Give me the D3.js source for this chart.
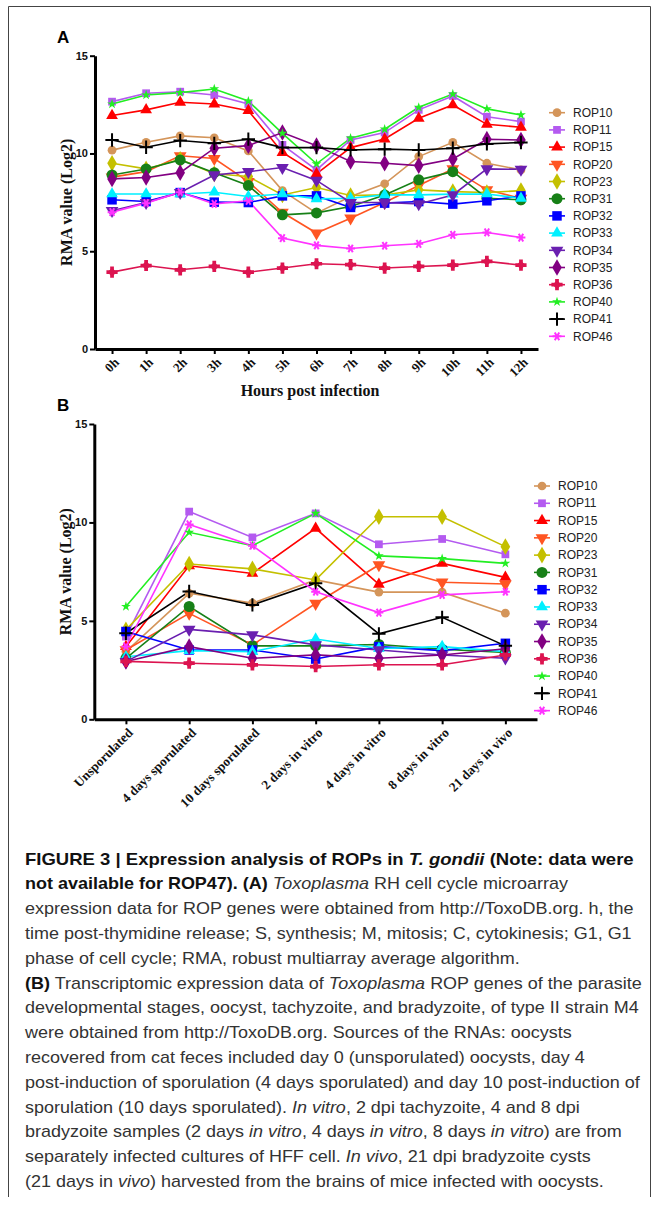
<!DOCTYPE html>
<html><head><meta charset="utf-8">
<script src="https://cdn.jsdelivr.net/npm/d3@7"></script>
<style>body{margin:0;background:#fff} svg{display:block}</style>
</head><body>
<svg id="c" width="659" height="1207"></svg>
<script>
// ---------- DATA ----------
const hours = ["0h","1h","2h","3h","4h","5h","6h","7h","8h","9h","10h","11h","12h"];
const stages = ["Unsporulated","4 days sporulated","10 days sporulated","2 days in vitro","4 days in vitro","8 days in vitro","21 days in vivo"];
const genes = ["ROP10","ROP11","ROP15","ROP20","ROP23","ROP31","ROP32","ROP33","ROP34","ROP35","ROP36","ROP40","ROP41","ROP46"];
const yTicks = [0,5,10,15];

// Panel A: RH cell cycle (hours)
const rop10A = [10.17,10.57,10.9,10.8,10.13,8.1,6.95,7.8,8.45,9.84,10.57,9.5,9.16];
const rop11A = [12.65,13.08,13.16,12.99,12.53,10.44,9.16,10.69,11.07,12.23,12.94,11.88,11.63];
const rop15A = [11.94,12.23,12.62,12.53,12.19,10.05,8.96,10.3,10.74,11.8,12.48,11.49,11.34];
const rop20A = [8.79,9.07,9.88,9.74,8.56,6.98,5.93,6.69,7.49,8.36,9.21,8.14,7.7];
const rop23A = [9.5,9.21,9.7,8.96,8.82,7.88,8.26,7.85,7.88,8.14,8.05,8.0,8.1];
const rop31A = [8.9,9.21,9.67,9.02,8.36,6.86,6.96,7.29,7.88,8.65,9.07,7.71,7.63];
const rop32A = [7.63,7.54,8.0,7.51,7.49,7.83,7.83,7.24,7.46,7.54,7.41,7.58,7.83];
const rop33A = [7.93,7.93,7.93,8.02,7.8,7.93,7.68,7.71,7.88,7.88,7.92,7.93,7.71];
const rop34A = [7.07,7.49,8.0,8.9,9.07,9.28,8.62,7.49,7.49,7.42,7.88,9.21,9.19];
const rop35A = [8.7,8.77,9.02,10.27,10.4,11.07,10.4,9.59,9.5,9.38,9.72,10.73,10.69];
const rop36A = [3.93,4.27,4.05,4.22,3.93,4.14,4.36,4.31,4.14,4.22,4.29,4.48,4.29];
const rop40A = [12.53,12.99,13.11,13.3,12.68,11.03,9.47,10.78,11.24,12.36,13.04,12.28,11.97];
const rop41A = [10.69,10.32,10.66,10.52,10.73,10.3,10.3,10.18,10.22,10.18,10.27,10.49,10.56];
const rop46A = [7.0,7.46,8.02,7.42,7.58,5.67,5.3,5.14,5.28,5.38,5.84,5.96,5.7];

// Panel B: developmental stages
const rop10B = [3.44,6.4,5.9,7.08,6.46,6.46,5.39];
const rop11B = [4.2,10.55,9.24,10.46,8.89,9.16,8.38];
const rop15B = [3.69,7.8,7.41,9.7,6.86,7.92,7.21];
const rop20B = [3.52,5.38,3.78,5.88,7.84,6.96,6.87];
const rop23B = [4.54,7.89,7.64,7.08,10.29,10.29,8.77];
const rop31B = [3.1,5.73,3.73,3.73,3.8,3.56,3.39];
const rop32B = [4.46,3.52,3.52,3.06,3.69,3.49,3.86];
const rop33B = [3.18,3.49,3.44,4.08,3.6,3.69,3.44];
const rop34B = [2.93,4.57,4.29,3.78,3.52,3.27,3.1];
const rop35B = [2.94,3.69,3.1,3.27,3.1,3.27,3.58];
const rop36B = [2.94,2.85,2.77,2.68,2.77,2.77,3.27];
const rop40B = [5.73,9.5,8.82,10.46,8.3,8.16,7.92];
const rop41B = [4.37,6.49,5.81,6.91,4.34,5.18,3.73];
const rop46B = [3.7,9.9,8.82,6.48,5.42,6.32,6.48];

const seriesA = [rop10A,rop11A,rop15A,rop20A,rop23A,rop31A,rop32A,rop33A,rop34A,rop35A,rop36A,rop40A,rop41A,rop46A];
const seriesB = [rop10B,rop11B,rop15B,rop20B,rop23B,rop31B,rop32B,rop33B,rop34B,rop35B,rop36B,rop40B,rop41B,rop46B];

// ---------- STYLE ----------
const colors = ["#D4955A","#B45AF0","#FF0000","#FF5522","#C4C000","#178017","#0000FF","#00F0FF","#6A1FB0","#820082","#DC1450","#22EE22","#000000","#FF33FF"];
const shapes = ["circle","square","tri","tridown","diamond","circleL","squareL","tri","tridown","diamond","blob","star","plus","aster"];

const svg = d3.select("#c");
const serif = "'Liberation Serif','Times New Roman',serif";
const sans = "'Liberation Sans',Arial,sans-serif";

// frame
svg.append("path").attr("d","M8.5,1197 V6.5 H650.5 V1197").attr("fill","none").attr("stroke","#444").attr("stroke-width",1);

function marker(g, shape, color, x, y) {
  const t = `translate(${x},${y})`;
  const sym = (type, size) => d3.symbol().type(type).size(size)();
  if (shape === "circle") g.append("path").attr("d", sym(d3.symbolCircle, 60)).attr("transform", t).attr("fill", color);
  else if (shape === "circleL") g.append("path").attr("d", sym(d3.symbolCircle, 95)).attr("transform", t).attr("fill", color);
  else if (shape === "square") g.append("path").attr("d", sym(d3.symbolSquare, 60)).attr("transform", t).attr("fill", color);
  else if (shape === "squareL") g.append("path").attr("d", sym(d3.symbolSquare, 90)).attr("transform", t).attr("fill", color);
  else if (shape === "tri") g.append("path").attr("d", sym(d3.symbolTriangle, 60)).attr("transform", t).attr("fill", color);
  else if (shape === "tridown") g.append("path").attr("d", sym(d3.symbolTriangle, 70)).attr("transform", t + " rotate(180)").attr("fill", color);
  else if (shape === "diamond") g.append("path").attr("d", sym(d3.symbolDiamond, 80)).attr("transform", t).attr("fill", color);
  else if (shape === "blob") {
    g.append("path").attr("d", sym(d3.symbolCross, 70)).attr("transform", t).attr("fill", color);
    g.append("path").attr("d", sym(d3.symbolSquare, 40)).attr("transform", t + " rotate(45)").attr("fill", color);
  }
  else if (shape === "star") g.append("path").attr("d", sym(d3.symbolStar, 30)).attr("transform", t).attr("fill", color);
  else if (shape === "plus") g.append("path").attr("d", sym(d3.symbolPlus, 60)).attr("transform", t).attr("fill", "none").attr("stroke", color).attr("stroke-width", 2);
  else if (shape === "aster") g.append("path").attr("d", sym(d3.symbolAsterisk, 55)).attr("transform", t + " rotate(90)").attr("fill", "none").attr("stroke", color).attr("stroke-width", 2);
}

function panel(cfg) {
  const g = svg.append("g");
  const x = d3.scalePoint().domain(cfg.cats).range([cfg.x0, cfg.x1]).padding(0.5);
  const y = d3.scaleLinear().domain([0,15]).range([cfg.yb, cfg.yt]);

  cfg.series.forEach((vals, i) => {
    const line = d3.line().x((d, j) => x(cfg.cats[j])).y(d => y(d));
    g.append("path").datum(vals).attr("d", line).attr("fill","none").attr("stroke", colors[i]).attr("stroke-width", 1.6);
  });
  cfg.series.forEach((vals, i) => {
    const mg = g.append("g");
    vals.forEach((v, j) => marker(mg, shapes[i], colors[i], x(cfg.cats[j]), y(v)));
  });

  const ya = g.append("g").attr("transform", `translate(${cfg.x0},0)`)
    .call(d3.axisLeft(y).tickValues(yTicks).tickSize(5).tickSizeOuter(0).tickPadding(2));
  ya.select(".domain").attr("stroke-width", 3).attr("stroke","#000");
  ya.selectAll(".tick line").attr("stroke-width", 2);
  ya.selectAll("text").attr("font-family", sans).attr("font-weight","bold").attr("font-size", 11).attr("fill","#111");

  const xa = g.append("g").attr("transform", `translate(0,${cfg.yb})`)
    .call(d3.axisBottom(x).tickSize(5).tickSizeOuter(0));
  xa.select(".domain").attr("stroke-width", 3).attr("stroke","#000");
  xa.selectAll(".tick line").attr("stroke-width", 2);
  xa.selectAll("text").attr("font-family", serif).attr("font-weight","bold").attr("font-size", cfg.xfs).attr("fill","#111")
    .attr("text-anchor","end").attr("x",0).attr("y",0).attr("dy","0.35em")
    .attr("transform", `translate(4,${cfg.xoff}) rotate(-45)`);

  g.append("text").attr("transform", `translate(${cfg.ylx},${(cfg.yt+cfg.yb)/2}) rotate(-90)`)
    .attr("text-anchor","middle").attr("dy","0.35em").attr("font-family", serif).attr("font-weight","bold").attr("font-size",16).attr("fill","#111")
    .text("RMA value (Log2)");

  g.append("text").attr("x", 57).attr("y", cfg.letterY).attr("font-family", sans).attr("font-weight","bold").attr("font-size",17).attr("fill","#000").text(cfg.letter);

  const lg = g.append("g");
  genes.forEach((name, i) => {
    const ly = cfg.legY + i * cfg.legDy;
    lg.append("line").attr("x1", cfg.legX - 8).attr("x2", cfg.legX + 8).attr("y1", ly).attr("y2", ly).attr("stroke", colors[i]).attr("stroke-width", 1.6);
    marker(lg, shapes[i], colors[i], cfg.legX, ly);
    lg.append("text").attr("x", cfg.legX + 16).attr("y", ly).attr("dy","0.35em").attr("font-family", sans).attr("font-size", 12).attr("fill","#222").text(name);
  });
  return {g, x, y};
}

panel({cats: hours, series: seriesA, x0: 95, x1: 538, yb: 349, yt: 55.7, xfs: 13, xoff: 11, ylx: 66,
  letter: "A", letterY: 42.5, legX: 557, legY: 112.7, legDy: 17.2});
panel({cats: stages, series: seriesB, x0: 94.3, x1: 537, yb: 719.3, yt: 424, xfs: 13.2, xoff: 11, ylx: 65,
  letter: "B", letterY: 410.5, legX: 542, legY: 486, legDy: 17.28});

svg.append("text").attr("x", 310).attr("y", 390).attr("dy","0.35em").attr("text-anchor","middle")
  .attr("font-family", serif).attr("font-weight","bold").attr("font-size",16).attr("fill","#111").text("Hours post infection");

// ---------- CAPTION ----------
const captionLines = [
 [["FIGURE 3 | Expression analysis of ROPs in ","b"],["T. gondii","bi"],[" (Note: data were","b"]],
 [["not available for ROP47). (A) ","b"],["Toxoplasma","i"],[" RH cell cycle microarray","r"]],
 [["expression data for ROP genes were obtained from http://ToxoDB.org. h, the","r"]],
 [["time post-thymidine release; S, synthesis; M, mitosis; C, cytokinesis; G1, G1","r"]],
 [["phase of cell cycle; RMA, robust multiarray average algorithm.","r"]],
 [["(B)","b"],[" Transcriptomic expression data of ","r"],["Toxoplasma","i"],[" ROP genes of the parasite","r"]],
 [["developmental stages, oocyst, tachyzoite, and bradyzoite, of type II strain M4","r"]],
 [["were obtained from http://ToxoDB.org. Sources of the RNAs: oocysts","r"]],
 [["recovered from cat feces included day 0 (unsporulated) oocysts, day 4","r"]],
 [["post-induction of sporulation (4 days sporulated) and day 10 post-induction of","r"]],
 [["sporulation (10 days sporulated). ","r"],["In vitro","i"],[", 2 dpi tachyzoite, 4 and 8 dpi","r"]],
 [["bradyzoite samples (2 days ","r"],["in vitro","i"],[", 4 days ","r"],["in vitro","i"],[", 8 days ","r"],["in vitro","i"],[") are from","r"]],
 [["separately infected cultures of HFF cell. ","r"],["In vivo","i"],[", 21 dpi bradyzoite cysts","r"]],
 [["(21 days in ","r"],["vivo","i"],[") harvested from the brains of mice infected with oocysts.","r"]]
];
const cap = svg.append("g");
const capTexts = captionLines.map((segs) => {
  const t = cap.append("text").attr("x", 0).attr("y", 0).attr("font-family", sans).attr("font-size", 16)
    .style("white-space","pre");
  segs.forEach(([s, st]) => {
    t.append("tspan").text(s)
      .attr("font-weight", st.includes("b") ? "bold" : "normal")
      .attr("font-style", st.includes("i") ? "italic" : "normal")
      .attr("fill", st.includes("b") ? "#111" : "#333");
  });
  return t;
});
const sxR = 607 / capTexts[3].node().getComputedTextLength();
const sxB = 609 / capTexts[0].node().getComputedTextLength();
capTexts.forEach((t, i) => {
  const yc = 859 + i * 24.8 + 5.6;
  t.attr("transform", `translate(25,${yc}) scale(${i === 0 ? sxB : sxR},1)`);
});
</script>
</body></html>
